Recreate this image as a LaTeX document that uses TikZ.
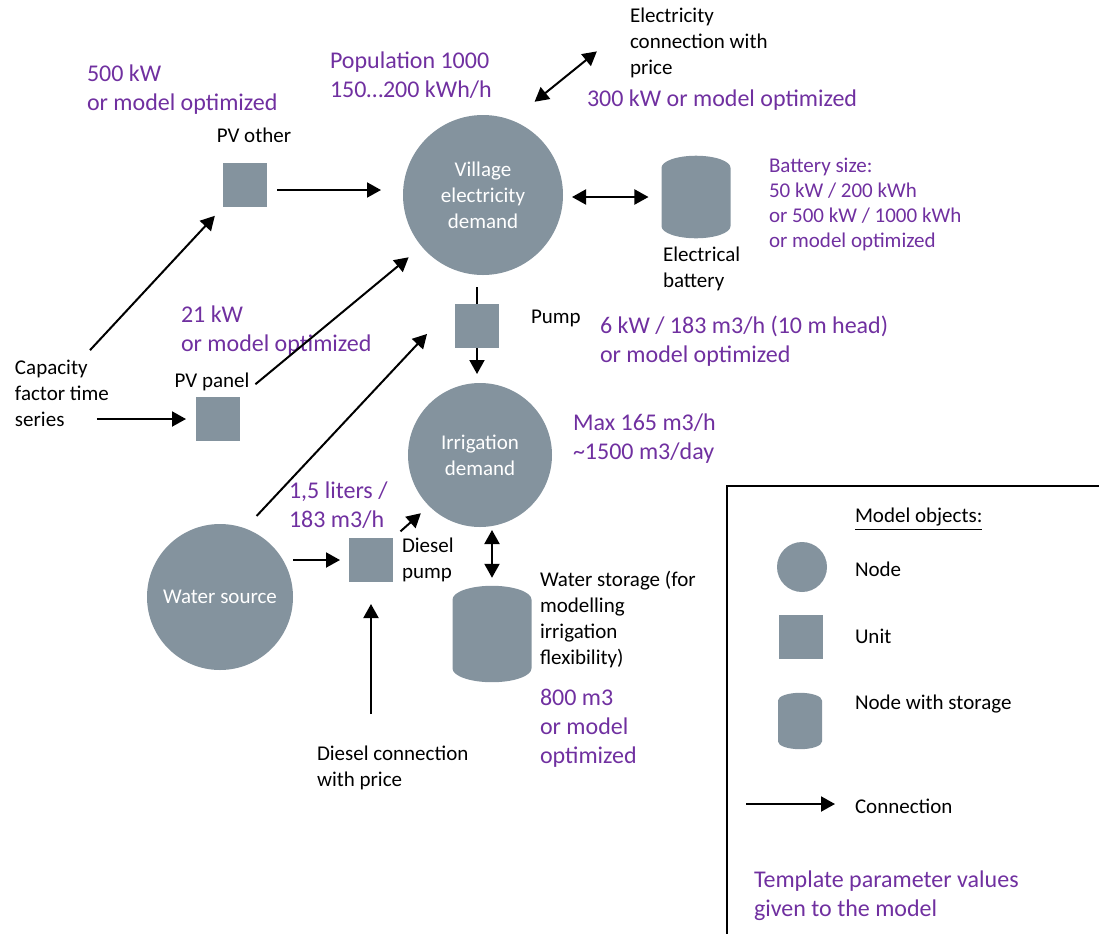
\documentclass[tikz,border=0pt]{standalone}
\usepackage{fontspec}
\setmainfont{Carlito}
\usetikzlibrary{arrows.meta,positioning,shapes.geometric}
\definecolor{objgray}{RGB}{132,147,158}
\definecolor{parpurple}{RGB}{112,48,160}

\begin{document}
\begin{tikzpicture}[x=0.5pt,y=-0.5pt,
    every node/.style={inner sep=0pt,outer sep=0pt},
    txt/.style={font=\fontsize{10.5}{13}\selectfont,align=left,text=black},
    param/.style={font=\fontsize{12}{14.5}\selectfont,align=left,text=parpurple},
    paramsmall/.style={font=\fontsize{10.5}{12.5}\selectfont,align=left,text=parpurple},
    objnode/.style={circle,fill=objgray,text=white,align=center,font=\fontsize{10.5}{13}\selectfont},
    unitbox/.style={rectangle,fill=objgray,minimum size=22pt},
    storage/.style={cylinder,shape border rotate=90,aspect=0.35,fill=objgray,anchor=shape center},
    conn/.style={-{Triangle[length=7pt,width=7.5pt]},line width=1pt},
    biconn/.style={{Triangle[length=7pt,width=7.5pt]}-{Triangle[length=7pt,width=7.5pt]},line width=1pt}]
    \useasboundingbox (0,0) rectangle (1099,933);
    \node[objnode,minimum size=80pt] (vil) at (483,195) {Village\\electricity\\demand};
    \node[objnode,minimum size=72pt] (irr) at (480,455) {Irrigation\\demand};
    \node[objnode,minimum size=73pt] (water) at (220,597) {Water source};
    \node[unitbox] (pvo) at (245,185) {};
    \node[unitbox] (pvp) at (218,419) {};
    \node[unitbox] (pump) at (477,326) {};
    \node[unitbox] (dpump) at (371,560) {};
    \node[storage,inner xsep=17.25pt,inner ysep=14.5pt] (bat) at (696,197) {};
    \node[storage,inner xsep=19.75pt,inner ysep=17.1pt] (stor) at (492,634) {};

    \node[param,anchor=west] (p500) at (87,90) {500 kW\\or model optimized};
    \node[txt,above=10pt of pvo,xshift=4.5pt] (pvoname) {PV other};
    \node[param,anchor=west] (pop) at (330,75) {Population 1000\\150…200 kWh/h};
    \node[txt,anchor=west] (elec) at (630,43) {Electricity\\connection with\\price};
    \node[param,anchor=west] (p300) at (587,100) {300 kW or model optimized};
    \node[paramsmall,anchor=west] (batsz) at (769,204) {Battery size:\\50 kW / 200 kWh\\or 500 kW / 1000 kWh\\or model optimized};
    \node[txt,anchor=west] (batname) at (663,269) {Electrical\\battery};
    \node[txt,right=16pt of pump,yshift=4pt] (pumpname) {Pump};
    \node[param,anchor=west] (p6kw) at (600,341.5) {6 kW / 183 m3/h (10 m head)\\or model optimized};
    \node[param,anchor=west] (p21) at (181,331) {21 kW\\or model optimized};
    \node[txt,anchor=west] (cap) at (15,393) {Capacity\\factor time\\series};
    \node[txt,above=3pt of pvp,xshift=-3pt] (pvpname) {PV panel};
    \node[param,anchor=west] (pmax) at (573,439) {Max 165 m3/h\\\textasciitilde1500 m3/day};
    \node[param,anchor=west] (p15) at (289,505) {1,5 liters /\\183 m3/h};
    \node[txt,right=4.5pt of dpump] (dpname) {Diesel\\pump};
    \node[txt,anchor=west] (stname) at (540,620) {Water storage (for\\modelling\\irrigation\\flexibility)};
    \node[param,anchor=west] (p800) at (540,728) {800 m3\\or model\\optimized};
    \node[txt,anchor=west] (dcon) at (317,768) {Diesel connection\\with price};

    \draw[conn,shorten <=6.5pt,shorten >=6pt] (cap.60) -- (pvo.south west);
    \draw[conn,shorten <=5pt,shorten >=11pt] ([yshift=-2.5pt]pvo.east) -- ([yshift=-2.5pt]pvo.east -| vil.west);
    \draw[conn,shorten <=10pt,shorten >=8.5pt] (pvp.north east) -- (vil.220);
    \draw[conn,shorten <=-6pt,shorten >=5pt] (cap.east |- pvp) -- (pvp.west);
    \draw[line width=1pt,shorten <=6pt] (vil.south -| pump) -- (pump.north);
    \draw[conn,shorten >=4.5pt] (pump.south) -- (pump.south |- irr.north);
    \draw[conn,shorten <=8.5pt,shorten >=20.5pt] (water.70) -- (pump.north west);
    \draw[conn,shorten >=4.5pt] (water.east |- dpump) -- (dpump.west);
    \draw[conn,shorten <=5pt,shorten >=5.5pt] (dpump.north east) -- (irr.225);
    \draw[conn,shorten <=16pt,shorten >=11pt] (dpump.south |- dcon.north) -- (dpump.south);
    \draw[biconn,shorten <=1.5pt,shorten >=4pt] (stor.north |- irr.south) -- (stor.north);
    \draw[biconn,shorten <=4.5pt,shorten >=6.5pt] (vil.east |- bat.shape center) -- (bat.shape center -| bat.west);
    \draw[biconn,shorten <=14.75pt,shorten >=21.3pt] (vil.69) -- (elec.165);

    \draw[line width=0.75pt] (727,940) |- (1110,486);
    \node[txt,anchor=west] (legtitle) at (855,519) {\underline{Model objects:}};
    \node[objnode,minimum size=25pt] (legnode) at (802,567) {};
    \node[unitbox] (legunit) at (801,637) {};
    \node[storage,inner xsep=11pt,inner ysep=10.15pt] (legstor) at (800,721) {};
    \node[txt,anchor=west] (legnodetxt) at (855,569) {Node};
    \node[txt,anchor=west] (legunittxt) at (855,636) {Unit};
    \node[txt,anchor=west] (legstortxt) at (855,704) {Node with storage};
    \coordinate (legA) at (746,804);
    \coordinate (legB) at (835,804);
    \draw[conn] (legA) -- (legB);
    \node[txt,anchor=west] (legconntxt) at (855,806) {Connection};
    \node[param,anchor=west] (template) at (754,895.5) {Template parameter values\\given to the model};
\end{tikzpicture}
\end{document}
